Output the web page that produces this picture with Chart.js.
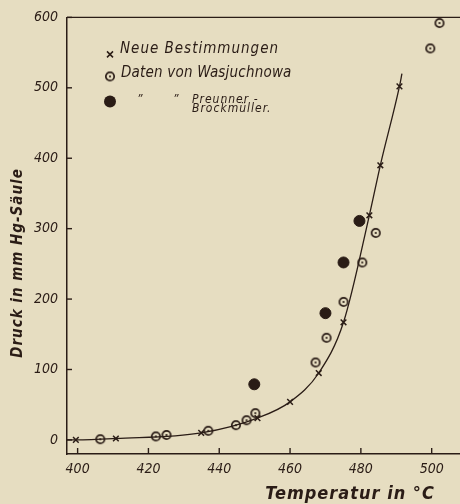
<!DOCTYPE html>
<html>
<head>
<meta charset="utf-8">
<script src="https://cdn.jsdelivr.net/npm/chart.js@4"></script>
<style>
  html, body { margin: 0; padding: 0; background: #e6ddc1; }
  canvas { display: block; }
</style>
</head>
<body>
<canvas id="druckChart" width="460" height="504"></canvas>
<script>
// Neue Bestimmungen (x)
var neueT = [399.5, 410.8, 434.9, 450.8, 460.0, 468.1, 475.1, 482.4, 485.5, 490.9];
var neueP = [0, 2, 10, 31, 54, 95, 167, 319, 390, 502];
// Daten von Wasjuchnowa (o)
var wasT = [406.4, 422.1, 425.1, 436.9, 444.7, 447.7, 450.2, 467.2, 470.3, 475.1, 480.4, 484.2, 499.6, 502.2];
var wasP = [1, 5, 7, 13, 21, 28, 38, 110, 145, 196, 252, 294, 556, 592];
// Preunner-Brockmüller (gefüllt)
var preT = [449.9, 470.0, 475.1, 479.6];
var preP = [79, 180, 252, 311];
// gezeichnete Kurve
var kurveT = [397.0, 399.5, 410.8, 434.9, 450.8, 460.0, 468.1, 475.1, 482.4, 485.5, 490.9, 491.6];
var kurveP = [0, 0, 2, 10, 31, 54, 95, 167, 319, 390, 502, 520];

var xTicks = [400, 420, 440, 460, 480, 500];
var yTicks = [0, 100, 200, 300, 400, 500, 600];

var INK = '#2a1c16';
var PAPER = '#e6ddc1';
var FONT = '"DejaVu Sans Condensed", "DejaVu Sans", sans-serif';

function pts(xs, ys) {
  return xs.map(function (v, i) { return { x: v, y: ys[i] }; });
}

// Kreis mit Punkt
function ringMarker() {
  var c = document.createElement('canvas');
  c.width = 12; c.height = 12;
  var g = c.getContext('2d');
  g.strokeStyle = INK;
  g.lineWidth = 1.7;
  g.beginPath(); g.arc(6, 6, 4.2, 0, Math.PI * 2); g.stroke();
  g.fillStyle = INK;
  g.beginPath(); g.arc(6, 6, 1.1, 0, Math.PI * 2); g.fill();
  return c;
}
var ring = ringMarker();

var paper = {
  id: 'paper',
  beforeDraw: function (chart) {
    var ctx = chart.ctx;
    ctx.save();
    ctx.fillStyle = PAPER;
    ctx.fillRect(0, 0, chart.width, chart.height);
    ctx.restore();
  },
  afterDraw: function (chart) {
    var ctx = chart.ctx;
    var a = chart.chartArea;
    var xs = chart.scales.x, ys = chart.scales.y;
    ctx.save();
    ctx.strokeStyle = INK;
    ctx.lineWidth = 1.4;
    // obere Linie
    ctx.beginPath(); ctx.moveTo(a.left, a.top); ctx.lineTo(chart.width, a.top); ctx.stroke();
    // Striche nach innen
    xs.ticks.forEach(function (t) {
      var px = xs.getPixelForValue(t.value);
      ctx.beginPath(); ctx.moveTo(px, a.bottom); ctx.lineTo(px, a.bottom - 6); ctx.stroke();
    });
    ys.ticks.forEach(function (t) {
      var py = ys.getPixelForValue(t.value);
      ctx.beginPath(); ctx.moveTo(a.left, py); ctx.lineTo(a.left + 5, py); ctx.stroke();
    });

    // Legende
    var lx = a.left + 43, ty = a.top;
    ctx.lineWidth = 1.5;
    ctx.beginPath();
    ctx.moveTo(lx - 3, ty + 34); ctx.lineTo(lx + 3, ty + 40);
    ctx.moveTo(lx + 3, ty + 34); ctx.lineTo(lx - 3, ty + 40);
    ctx.stroke();
    ctx.drawImage(ring, lx - 6, ty + 53);
    ctx.fillStyle = INK;
    ctx.beginPath(); ctx.arc(lx, ty + 84, 6, 0, Math.PI * 2); ctx.fill();

    ctx.fillStyle = INK;
    ctx.textBaseline = 'middle';
    ctx.textAlign = 'left';
    ctx.font = 'italic 15px ' + FONT;
    ctx.letterSpacing = '1px';
    ctx.fillText('Neue Bestimmungen', lx + 10, ty + 32);
    ctx.letterSpacing = '0.2px';
    ctx.fillText('Daten von Wasjuchnowa', lx + 11, ty + 56);
    ctx.letterSpacing = '1px';
    ctx.font = 'italic 12px ' + FONT;
    ctx.fillText('\u201D', lx + 27, ty + 82);
    ctx.fillText('\u201D', lx + 63, ty + 82);
    ctx.fillText('Preunner -', lx + 82, ty + 82);
    ctx.fillText('Brockmüller.', lx + 82, ty + 91);

    // Achsentitel
    ctx.font = 'italic bold 18px ' + FONT;
    ctx.textAlign = 'center';
    ctx.fillText('Temperatur in °C', 350, 494);
    ctx.translate(18, 263);
    ctx.rotate(-Math.PI / 2);
    ctx.font = 'italic bold 15px ' + FONT;
    ctx.fillText('Druck in mm Hg-Säule', 0, 0);
    ctx.restore();
  }
};

new Chart(document.getElementById('druckChart').getContext('2d'), {
  type: 'scatter',
  data: {
    datasets: [{
      label: 'Kurve',
      data: pts(kurveT, kurveP),
      showLine: true,
      cubicInterpolationMode: 'monotone',
      borderColor: INK,
      borderWidth: 1.3,
      pointRadius: 0,
      fill: false
    }, {
      label: 'Neue Bestimmungen',
      data: pts(neueT, neueP),
      pointStyle: 'crossRot',
      pointRadius: 4,
      borderColor: INK,
      borderWidth: 1.5
    }, {
      label: 'Daten von Wasjuchnowa',
      data: pts(wasT, wasP),
      pointStyle: ring
    }, {
      label: 'Preunner-Brockmüller',
      data: pts(preT, preP),
      pointStyle: 'circle',
      pointRadius: 5.5,
      backgroundColor: INK,
      borderColor: INK,
      borderWidth: 1
    }]
  },
  options: {
    responsive: false,
    animation: false,
    clip: false,
    layout: { autoPadding: false, padding: { top: 17, right: 0, left: 0, bottom: 0 } },
    plugins: {
      legend: { display: false },
      tooltip: { enabled: false }
    },
    scales: {
      x: {
        type: 'linear',
        min: 397,
        max: 508,
        afterFit: function (s) { s.height = 50; s.paddingLeft = 0; s.paddingRight = 0; },
        afterBuildTicks: function (s) { s.ticks = xTicks.map(function (v) { return { value: v }; }); },
        grid: { display: true, drawOnChartArea: false, drawTicks: false },
        border: { display: true, color: INK, width: 1.5 },
        ticks: {
          color: INK,
          padding: 7,
          maxRotation: 0,
          font: { family: FONT, size: 14, style: 'italic' }
        }
      },
      y: {
        type: 'linear',
        min: -20,
        max: 600,
        afterFit: function (s) { s.width = 67; },
        afterBuildTicks: function (s) { s.ticks = yTicks.map(function (v) { return { value: v }; }); },
        grid: { display: true, drawOnChartArea: false, drawTicks: false },
        border: { display: true, color: INK, width: 1.5 },
        ticks: {
          color: INK,
          padding: 9,
          font: { family: FONT, size: 14, style: 'italic' }
        }
      }
    }
  },
  plugins: [paper]
});
</script>
</body>
</html>
